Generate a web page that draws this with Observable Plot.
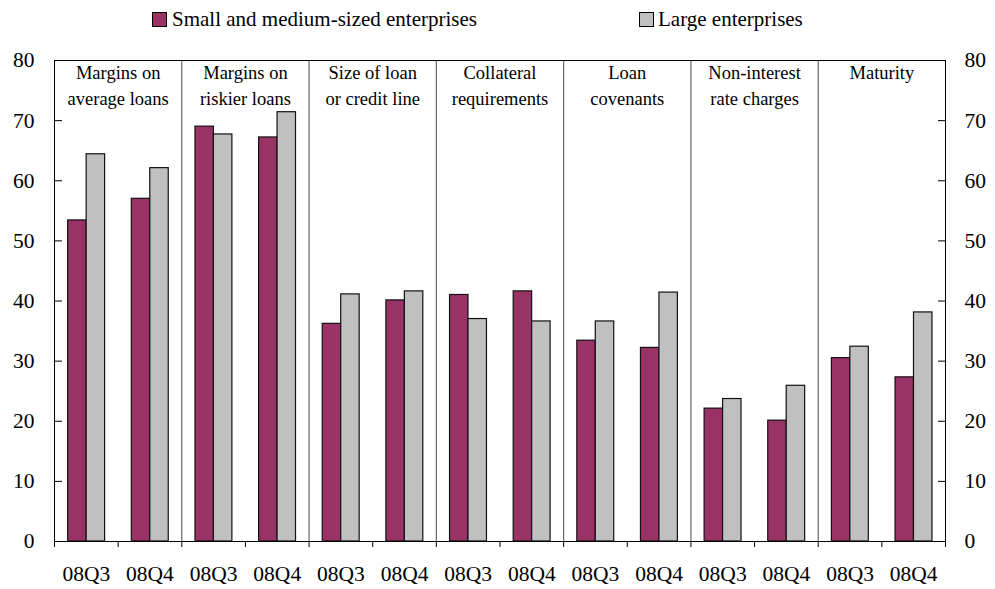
<!DOCTYPE html>
<html>
<head>
<meta charset="utf-8">
<script src="https://cdn.jsdelivr.net/npm/d3@7"></script>
<script src="https://cdn.jsdelivr.net/npm/@observablehq/plot@0.6"></script>
<style>
  html, body { margin: 0; padding: 0; background: #fff; }
  #legend { position: relative; height: 40px; width: 995px; font-family: "Liberation Serif", "Times New Roman", serif; font-size: 21px; color: #000; }
  .sw { position: absolute; top: 12px; width: 13px; height: 13px; border: 1px solid #000; }
  .lt { position: absolute; top: 6px; line-height: 26px; white-space: nowrap; }
</style>
</head>
<body>
<div id="legend"></div>
<div id="chart"></div>
<script>
// ---- data ----
const groups = [
  "Margins on\naverage loans",
  "Margins on\nriskier loans",
  "Size of loan\nor credit line",
  "Collateral\nrequirements",
  "Loan\ncovenants",
  "Non-interest\nrate charges",
  "Maturity"
];
const quarters = ["08Q3", "08Q4"];
const seriesNames = ["Small and medium-sized enterprises", "Large enterprises"];
const smeValues   = [53.4, 57.0, 69.0, 67.2, 36.2, 40.1, 41.0, 41.6, 33.4, 32.2, 22.1, 20.1, 30.5, 27.3];
const largeValues = [64.4, 62.1, 67.7, 71.4, 41.1, 41.6, 37.0, 36.6, 36.6, 41.4, 23.7, 25.9, 32.4, 38.1];
const yTicks = [0, 10, 20, 30, 40, 50, 60, 70, 80];
const colors = ["#993366", "#C0C0C0"];

// ---- derived table ----
const nSlots = groups.length * quarters.length;
const slotLabels = d3.range(nSlots).map(i => quarters[i % quarters.length]);
const barOffsets = {[seriesNames[0]]: [0.215, 0.505], [seriesNames[1]]: [0.505, 0.795]};
const rows = d3.range(nSlots).flatMap(i => [
  {slot: i, series: seriesNames[0], value: smeValues[i]},
  {slot: i, series: seriesNames[1], value: largeValues[i]}
]);
const groupRows = groups.map((g, k) => ({label: g, center: k * quarters.length + quarters.length / 2}));
const separators = d3.range(1, groups.length).map(k => k * quarters.length);

// ---- legend ----
const legend = document.getElementById("legend");
const legendPos = [[152, 172], [639, 658]];
seriesNames.forEach((name, i) => {
  const sw = document.createElement("div");
  sw.className = "sw"; sw.style.left = legendPos[i][0] + "px"; sw.style.background = colors[i];
  const t = document.createElement("div");
  t.className = "lt"; t.style.left = legendPos[i][1] + "px"; t.textContent = name;
  legend.append(sw, t);
});

// ---- chart ----
const chart = Plot.plot({
  width: 995,
  height: 549,
  marginTop: 20,
  marginBottom: 48,
  marginLeft: 54,
  marginRight: 50,
  style: {fontFamily: "Liberation Serif, Times New Roman, serif", fontSize: "21.5px", color: "#000", background: "#fff"},
  x: {domain: [0, nSlots], axis: null},
  y: {domain: [0, 80], axis: null},
  color: {domain: seriesNames, range: colors},
  marks: [
    Plot.ruleX(separators, {stroke: "#666", strokeWidth: 1.2}),
    Plot.rectY(rows, {
      x1: d => d.slot + barOffsets[d.series][0],
      x2: d => d.slot + barOffsets[d.series][1],
      y1: 0, y2: "value",
      fill: "series", stroke: "#111", strokeWidth: 1.2
    }),
    Plot.text(groupRows, {x: "center", y: 80, text: "label", lineAnchor: "top", dy: 0, lineHeight: 1.42, fontSize: 18.5}),
    Plot.ruleX([0, nSlots], {stroke: "#000"}),
    Plot.ruleY([0, 80], {stroke: "#000"}),
    Plot.axisY(yTicks, {anchor: "left", label: null, tickSize: -8, tickPadding: 28, tickFormat: d => d}),
    Plot.axisY(yTicks, {anchor: "right", label: null, tickSize: -8, tickPadding: 27, tickFormat: d => d}),
    Plot.axisX(d3.range(nSlots + 1), {anchor: "bottom", label: null, tickSize: 6, tickFormat: () => ""}),
    Plot.axisX(d3.range(nSlots).map(i => i + 0.5), {anchor: "bottom", label: null, tickSize: 0, tickPadding: 24, tickFormat: (d, i) => slotLabels[i]})
  ]
});
document.getElementById("chart").append(chart);
</script>
</body>
</html>
